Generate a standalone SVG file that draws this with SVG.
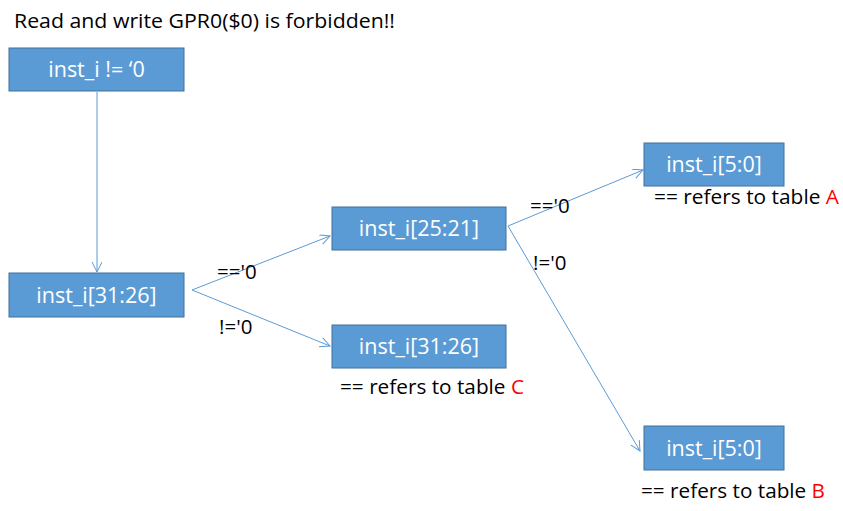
<svg xmlns="http://www.w3.org/2000/svg" width="843" height="511" viewBox="0 0 843 511">
<style>
.box{fill:#5B9BD5;stroke:#41719C;stroke-width:1}
.bt{font-family:"Open Sans","Liberation Sans",sans-serif;font-size:21.5px;fill:#fff;text-anchor:middle}
.t{font-family:"Open Sans","Liberation Sans",sans-serif;font-size:20.5px;fill:#000}
.r{fill:#FF0000}
.c{stroke:#5B9BD5;stroke-width:1;fill:none;marker-end:url(#a)}
</style>
<defs>
<marker id="a" markerWidth="12" markerHeight="12" refX="10" refY="5" orient="auto" markerUnits="userSpaceOnUse">
<path d="M0,0 L10,5 L0,10" fill="none" stroke="#5B9BD5" stroke-width="1"/>
</marker>
</defs>
<rect width="843" height="511" fill="#fff"/>
<text class="t" x="14" y="28" style="font-size:20.5px" textLength="381" lengthAdjust="spacingAndGlyphs">Read and write GPR0($0) is forbidden!!</text>
<g id="connectors">
<line class="c" x1="97" y1="92" x2="97" y2="272"/>
<polyline class="c" points="192,290 330,236"/>
<polyline class="c" points="192,290 330,346"/>
<polyline class="c" points="508,226 643,170"/>
<polyline class="c" points="508,226 640,451"/>
</g>
<g id="n1"><rect class="box" x="9" y="48" width="175" height="43"/><text class="bt" x="96.5" y="77">inst_i != ‘0</text></g>
<g id="n2"><rect class="box" x="9" y="273" width="175" height="44"/><text class="bt" x="96.5" y="303">inst_i[31:26]</text></g>
<g id="n3"><rect class="box" x="332" y="207" width="174" height="43"/><text class="bt" x="419" y="236">inst_i[25:21]</text></g>
<g id="n4"><rect class="box" x="332" y="325" width="174" height="43"/><text class="bt" x="419" y="354">inst_i[31:26]</text><text class="t" x="340" y="394" textLength="184" lengthAdjust="spacingAndGlyphs">== refers to table <tspan class="r">C</tspan></text></g>
<g id="n5"><rect class="box" x="644" y="143" width="140" height="43"/><text class="bt" x="714" y="172">inst_i[5:0]</text><text class="t" x="654" y="204" textLength="185" lengthAdjust="spacingAndGlyphs">== refers to table <tspan class="r">A</tspan></text></g>
<g id="n6"><rect class="box" x="644" y="426" width="140" height="44"/><text class="bt" x="714" y="456">inst_i[5:0]</text><text class="t" x="641" y="498" textLength="184" lengthAdjust="spacingAndGlyphs">== refers to table <tspan class="r">B</tspan></text></g>
<g id="labels">
<text class="t" x="217" y="279">=='0</text>
<text class="t" x="219" y="334">!='0</text>
<text class="t" x="530" y="213">=='0</text>
<text class="t" x="533" y="270">!='0</text>
</g>
</svg>
